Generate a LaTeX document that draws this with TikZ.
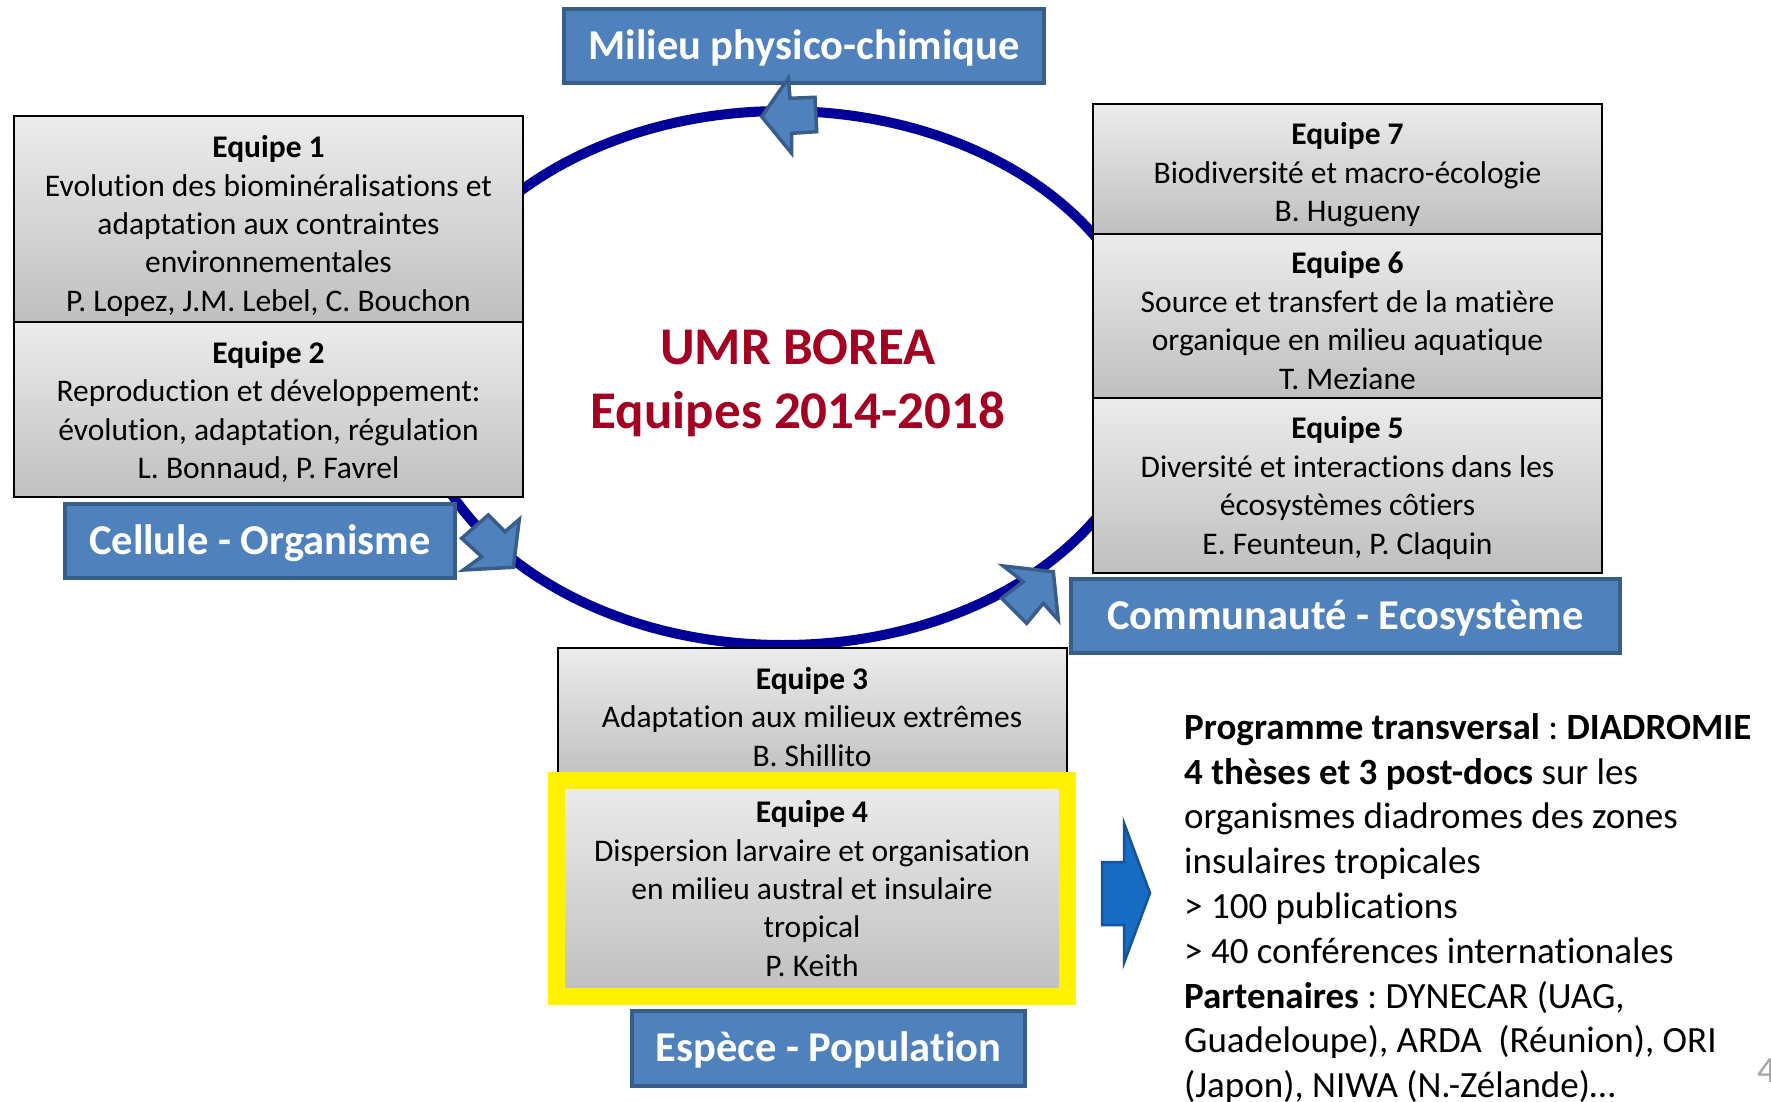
\documentclass[tikz,border=0pt]{standalone}
\usepackage{fontspec}
\setmainfont{Carlito}[Ligatures=NoCommon]
\frenchspacing
\definecolor{ringblue}{RGB}{0,0,153}
\definecolor{labelfill}{HTML}{4F81BD}
\definecolor{labeldraw}{HTML}{385D8A}
\definecolor{titlered}{RGB}{164,0,33}
\definecolor{bigarrowfill}{RGB}{23,108,196}
\definecolor{bigarrowdraw}{RGB}{22,82,158}
\tikzset{
  teambox/.style={draw=black, line width=2pt, top color=gray!15, bottom color=gray!50,
    minimum width=509pt, inner sep=0pt},
  teamtext/.style={inner sep=0pt, align=center, font=\fontsize{31.5}{38.4}\selectfont},
  levelbox/.style={draw=labeldraw, line width=4pt, fill=labelfill, text=white, inner sep=0pt,
    font=\fontsize{42.5}{50}\selectfont\bfseries, text height=26.8pt, text depth=0pt},
  ring/.style={draw=ringblue, line width=10pt},
  cyclearrow/.style={fill=labelfill, draw=labeldraw, line width=3.5pt, line join=miter},
  bigarrow/.style={fill=bigarrowfill, draw=bigarrowdraw, line width=2.5pt},
  yellowframe/.style={draw=yellow, line width=17pt},
  titletext/.style={text=titlered, align=center, inner sep=0pt, font=\fontsize{53}{64}\selectfont\bfseries},
  bodytext/.style={align=left, inner sep=0pt, font=\fontsize{37}{44.8}\selectfont}
}
\begin{document}
\begin{tikzpicture}[x=1pt,y=-1pt]
\useasboundingbox[fill=white] (0,0) rectangle (1771,1102);

% cycle
\draw[ring] (783,378) ellipse [x radius=368pt, y radius=267pt];

% title
\node[titletext] (umr) at (798,383) {UMR BOREA\\Equipes 2014-2018};

% team boxes
\node[teambox, minimum height=206pt] (e1) at (268.5,219) {};
\node[teambox, minimum height=175pt] (e2) at (268.5,409.5) {};
\node[teambox, minimum height=130pt] (e7) at (1347.5,169) {};
\node[teambox, minimum height=164pt] (e6) at (1347.5,316) {};
\node[teambox, minimum height=175pt] (e5) at (1347.5,485.5) {};
\node[teambox, minimum height=133pt] (e3) at (812,714.5) {};
\node[teambox, minimum height=214pt] (e4) at (812,888) {};
\draw[yellowframe] (e4.north west) rectangle (e4.south east);

\node[teamtext] (e1t) at ([yshift=-7pt]e1.center) {\textbf{Equipe 1}\\Evolution des biominéralisations et\\adaptation aux contraintes\\environnementales\\P. Lopez, J.M. Lebel, C. Bouchon};
\node[teamtext] (e2t) at ([yshift=-2.5pt]e2.center) {\textbf{Equipe 2}\\Reproduction et développement:\\évolution, adaptation, régulation\\L. Bonnaud, P. Favrel};
\node[teamtext] (e7t) at ([yshift=-6pt]e7.center) {\textbf{Equipe 7}\\Biodiversité et macro-écologie\\B. Hugueny};
\node[teamtext] (e6t) at ([yshift=-4.5pt]e6.center) {\textbf{Equipe 6}\\Source et transfert de la matière\\organique en milieu aquatique\\T. Meziane};
\node[teamtext] (e5t) at ([yshift=-2.5pt]e5.center) {\textbf{Equipe 5}\\Diversité et interactions dans les\\écosystèmes côtiers\\E. Feunteun, P. Claquin};
\node[teamtext] (e3t) at ([yshift=-2.5pt]e3.center) {\textbf{Equipe 3}\\Adaptation aux milieux extrêmes\\B. Shillito};
\node[teamtext] (e4t) at ([yshift=-0.5pt]e4.center) {\textbf{Equipe 4}\\Dispersion larvaire et organisation\\en milieu austral et insulaire\\tropical\\P. Keith};

% level labels
\node[levelbox, minimum width=480pt, minimum height=74pt] (milieu) at (804,46) {Milieu physico-chimique};
\node[levelbox, minimum width=390pt, minimum height=74pt] (cellule) at (260,541) {Cellule - Organisme};
\node[levelbox, minimum width=549pt, minimum height=74pt] (commu) at (1345.5,616) {Communauté - Ecosystème};
\node[levelbox, minimum width=393pt, minimum height=75pt] (espece) at (828.5,1048.5) {Espèce - Population};

% arrows on the cycle
\draw[cyclearrow] (761.7,116.7) -- (788.3,78.3) -- (790,98.3) -- (815,97.3) -- (816.7,131.7) -- (791.7,133.3) -- (791.7,153.3) -- cycle;
\draw[cyclearrow] (513.3,567.3) -- (519.3,519.3) -- (505,531.7) -- (488.3,515) -- (461.7,538.3) -- (481.7,556.7) -- (463.3,570) -- cycle;
\draw[cyclearrow] (1053.3,571.7) -- (1058.3,620) -- (1043.3,603.3) -- (1026.7,623.3) -- (1001.7,598.3) -- (1023.3,581.7) -- (1003.3,566) -- cycle;

% big arrow to the programme
\draw[bigarrow] (1102,862) -- (1124,862) -- (1124,823) -- (1150,893) -- (1124,963) -- (1124,925) -- (1102,925) -- cycle;

% programme text
\node[bodytext, anchor=north west] (prog) at (1184,707) {\rule{0pt}{32pt}\textbf{Programme transversal} : \textbf{DIADROMIE}\\
\textbf{4 thèses et 3 post-docs} sur les\\
organismes diadromes des zones\\
insulaires tropicales\\
\textgreater{} 100 publications\\
\textgreater{} 40 conférences internationales\\
\textbf{Partenaires} : DYNECAR (UAG,\\
Guadeloupe), ARDA~~(Réunion), ORI\\
(Japon), NIWA (N.-Zélande)…};

% page number (cut at the edge)
\node[anchor=base west, inner sep=0pt, font=\fontsize{37}{44}\selectfont, text=gray!70] (pagenum) at (1757,1082) {4};
\end{tikzpicture}
\end{document}
